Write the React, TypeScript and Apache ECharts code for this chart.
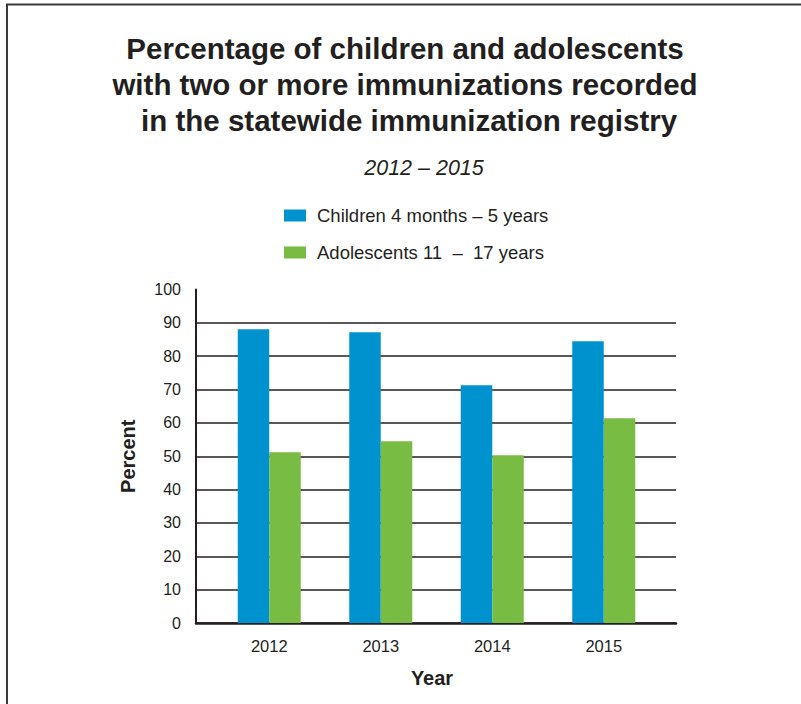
import React, { useEffect, useRef } from "react";
import * as echarts from "echarts";

const years = ["2012", "2013", "2014", "2015"];
const childrenPct = [88.1, 87.2, 71.3, 84.5];
const adolescentPct = [51.2, 54.5, 50.3, 61.4];
const seriesNames = ["Children 4 months \u2013 5 years", "Adolescents 11  \u2013  17 years"];
const titleLines = [
  "Percentage of children and adolescents",
  "with two or more immunizations recorded",
  " in the statewide immunization registry",
];
const subtitle = "2012 \u2013 2015";

const INK = "#231f20";
const BLUE = "#0092cf";
const GREEN = "#78bc43";
const FONT = "'Liberation Sans', Arial, Helvetica, sans-serif";

export default function App() {
  const ref = useRef<HTMLDivElement>(null);

  useEffect(() => {
    document.body.style.margin = "0";
    const chart = echarts.init(ref.current!, undefined, { renderer: "svg" });
    chart.setOption({
      animation: false,
      backgroundColor: "#ffffff",
      textStyle: { fontFamily: FONT, color: INK },
      graphic: [
        {
          type: "polyline",
          shape: { points: [[7, 704], [7, 4.5], [801, 4.5]] },
          style: { stroke: "#3a3a3a", lineWidth: 2, fill: "none" },
        },
        {
          type: "text",
          x: 405,
          y: 30,
          style: {
            text: titleLines.join("\n"),
            align: "center",
            verticalAlign: "top",
            font: `bold 29.5px ${FONT}`,
            lineHeight: 36,
            fill: INK,
          },
        },
        {
          type: "text",
          x: 424,
          y: 168,
          style: {
            text: subtitle,
            align: "center",
            verticalAlign: "middle",
            font: `italic 21.5px ${FONT}`,
            fill: INK,
          },
        },
      ],
      legend: {
        orient: "vertical",
        left: 279,
        top: 201,
        itemWidth: 22,
        itemHeight: 12,
        itemGap: 18,
        icon: "rect",
        selectedMode: false,
        textStyle: { fontSize: 18.5, color: INK, lineHeight: 18, padding: [0, 0, 0, 6] },
        data: seriesNames,
      },
      grid: [
        { left: 196, right: 125, top: 289.5, bottom: 81 },
        { left: 213.5, right: 141.5, top: 289.5, bottom: 81 },
      ],
      xAxis: [
        {
          gridIndex: 0,
          type: "value",
          min: 0,
          max: 1,
          axisLine: { show: true, lineStyle: { color: INK, width: 2.5 } },
          axisTick: { show: false },
          axisLabel: { show: false },
          splitLine: { show: false },
          name: "Year",
          nameLocation: "middle",
          nameGap: 45,
          nameTextStyle: { fontSize: 20, fontWeight: "bold", color: INK, padding: [0, 8, 0, 0] },
        },
        {
          gridIndex: 1,
          type: "category",
          data: years,
          axisLine: { show: false },
          axisTick: { show: false },
          axisLabel: { fontSize: 16.5, color: INK, margin: 14 },
        },
      ],
      yAxis: [
        {
          gridIndex: 0,
          type: "value",
          min: 0,
          max: 100,
          interval: 10,
          axisLine: { show: true, lineStyle: { color: INK, width: 2 } },
          axisTick: { show: false },
          axisLabel: { fontSize: 16, color: INK, margin: 15 },
          splitLine: { show: true, showMaxLine: false, lineStyle: { color: INK, width: 1.5 } },
          name: "Percent",
          nameLocation: "middle",
          nameGap: 58,
          nameTextStyle: { fontSize: 20, fontWeight: "bold", color: INK },
        },
        {
          gridIndex: 1,
          type: "value",
          min: 0,
          max: 100,
          show: false,
        },
      ],
      series: [
        {
          name: seriesNames[0],
          type: "bar",
          xAxisIndex: 1,
          yAxisIndex: 1,
          data: childrenPct,
          barWidth: 31.5,
          barGap: "0%",
          itemStyle: { color: BLUE },
        },
        {
          name: seriesNames[1],
          type: "bar",
          xAxisIndex: 1,
          yAxisIndex: 1,
          data: adolescentPct,
          barWidth: 31.5,
          barGap: "0%",
          itemStyle: { color: GREEN },
        },
      ],
    });
    return () => chart.dispose();
  }, []);

  return <div ref={ref} style={{ width: 801, height: 704 }} />;
}
